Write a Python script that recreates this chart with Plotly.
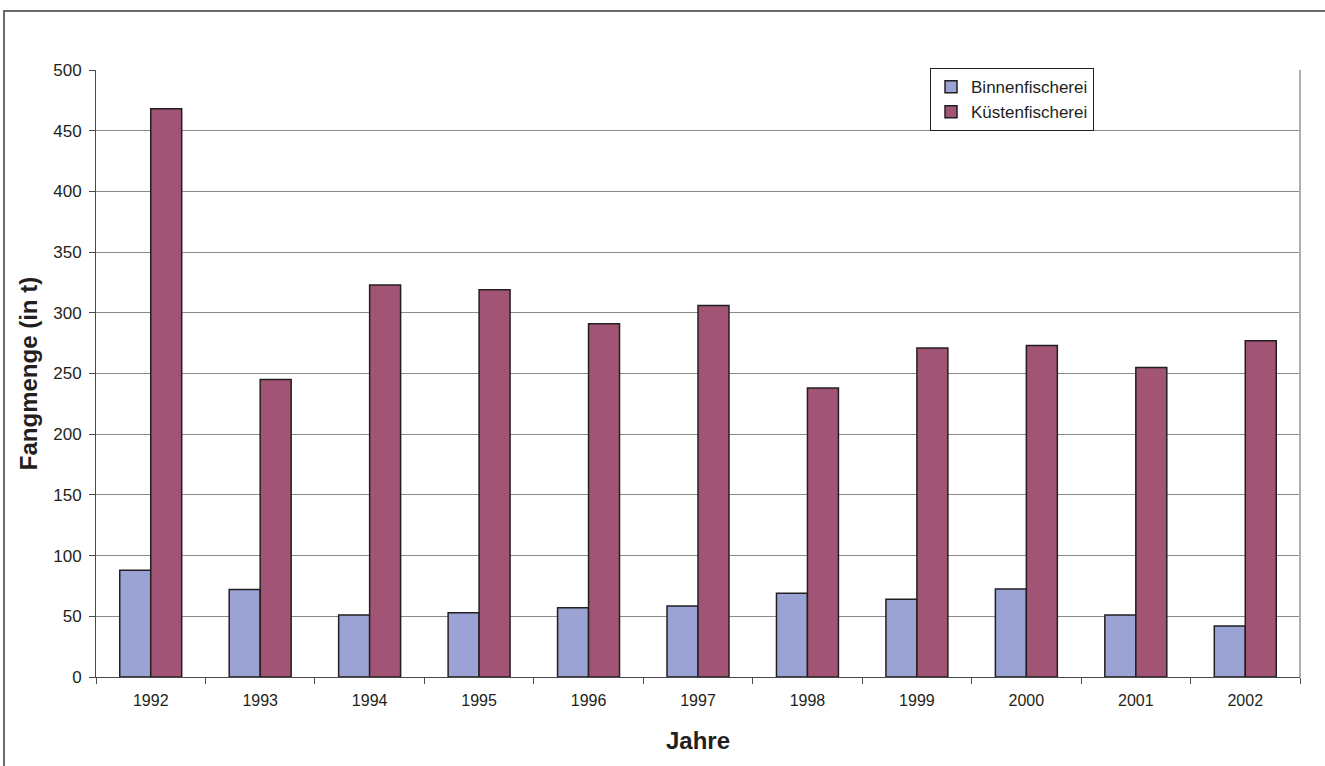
import plotly.graph_objects as go

# Fangmengen je Jahr (in t)
jahre = ["1992", "1993", "1994", "1995", "1996", "1997",
         "1998", "1999", "2000", "2001", "2002"]
binnenfischerei = [88, 72, 51, 53, 57, 58.5, 69, 64, 72.5, 51, 42]
kuestenfischerei = [468, 245, 323, 319, 291, 306, 238, 271, 273, 255, 277]

ink = "#231f20"
axis_grey = "#4a4a4a"
font_family = "Liberation Sans, Arial, sans-serif"

fig = go.Figure()
fig.add_trace(go.Bar(
    x=jahre, y=binnenfischerei, name="Binnenfischerei",
    marker=dict(color="#9ba3d5", line=dict(color=ink, width=1.5)),
))
fig.add_trace(go.Bar(
    x=jahre, y=kuestenfischerei, name="Küstenfischerei",
    marker=dict(color="#a15474", line=dict(color=ink, width=1.5)),
))

fig.update_layout(
    width=1325, height=766,
    margin=dict(l=96, r=25, t=70, b=89),
    paper_bgcolor="white", plot_bgcolor="white",
    barmode="group", bargap=0.434, bargroupgap=0,
    font=dict(family=font_family, size=16, color=ink),
    legend=dict(
        x=0.6927, y=1.003, xanchor="left", yanchor="top",
        bordercolor=ink, borderwidth=1, bgcolor="white",
        font=dict(size=17, color=ink),
        itemwidth=30, tracegroupgap=0,
    ),
    showlegend=True,
)

fig.update_xaxes(
    type="category", tickson="boundaries",
    ticks="outside", ticklen=6, tickcolor=axis_grey,
    showline=True, linecolor=axis_grey, linewidth=1,
    showgrid=False,
    tickfont=dict(size=16, color=ink),
    ticklabelstandoff=9,
    title=dict(text="<b>Jahre</b>", font=dict(size=24, color=ink), standoff=23),
)
fig.update_yaxes(
    range=[0, 500], dtick=50,
    ticks="outside", ticklen=6, tickcolor=axis_grey,
    showline=True, linecolor=axis_grey, linewidth=1,
    showgrid=True, gridcolor="#8a8a8a", gridwidth=1,
    zeroline=False,
    tickfont=dict(size=17, color=ink),
    ticklabelstandoff=4,
    title=dict(text="<b>Fangmenge (in t)</b>", font=dict(size=24, color=ink), standoff=8),
)

# rechter Rand der Zeichenfläche
fig.add_shape(type="line", xref="paper", yref="paper",
              x0=1, x1=1, y0=0, y1=1,
              line=dict(color="#a9b0b8", width=2))
# äußerer Rahmen um das Diagramm
fig.add_shape(type="rect", xref="paper", yref="paper",
              x0=-0.0764, x1=1.03, y0=-0.16, y1=1.0972,
              line=dict(color="#6a6a6a", width=2), layer="below")

fig.write_html("out.html")
